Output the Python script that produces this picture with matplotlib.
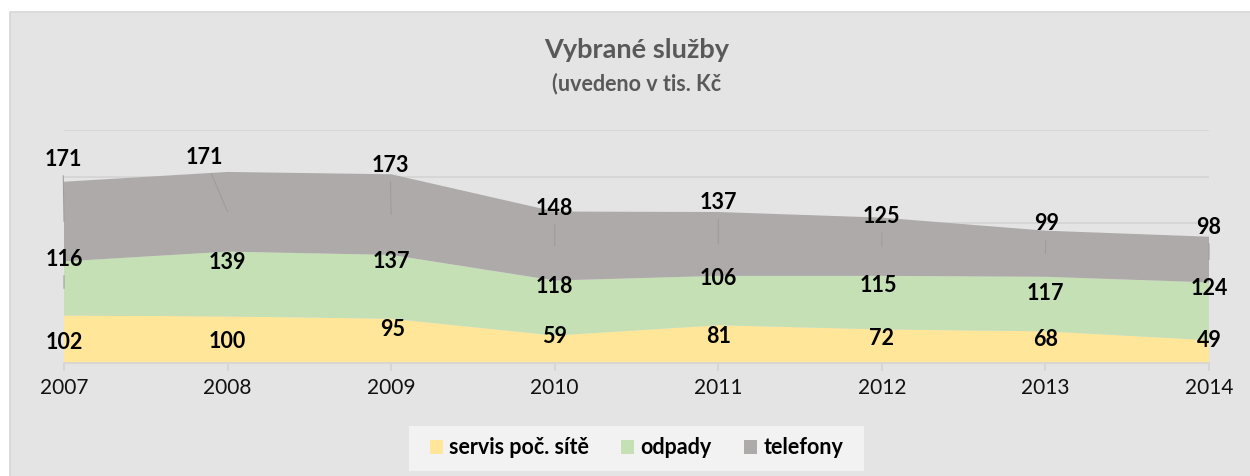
import matplotlib.pyplot as plt
from matplotlib.patches import Rectangle, Patch

# data
years = [2007, 2008, 2009, 2010, 2011, 2012, 2013, 2014]
servis = [102, 100, 95, 59, 81, 72, 68, 49]
odpady = [116, 139, 137, 118, 106, 115, 117, 124]
telefony = [171, 171, 173, 148, 137, 125, 99, 98]
names = ["servis poč. sítě", "odpady", "telefony"]

colors = ["#ffe699", "#c5e0b4", "#aeaaaa"]

# label offsets from the middle of each band (pixels, up = +)
lbl_dx = [[0, 0, 1, 0, 0, 0, 0, 0],
          [0, 0, 0, 0, 0, -3, 0, 0],
          [-1, -23, -1, 0, 0, 0, 1, 0]]
lbl_dy = [[-3, -2, 11, 13, 8, 8, 8, 11],
          [29, 22, 25, 22, 22, 17, 11, 23],
          [62, 54, 49, 38, 41, 30, 30, 32]]

plt.rcParams['font.family'] = ['Lato', 'DejaVu Sans']

fig = plt.figure(figsize=(12.5, 4.76), dpi=100)
fig.patch.set_facecolor("white")
fig.add_artist(Rectangle((10 / 1250, -0.01), 1.0, (476 - 12) / 476 + 0.01,
                         transform=fig.transFigure, facecolor="#e4e4e4",
                         edgecolor="#d6d6d6", lw=1.2, zorder=-10))

ax = fig.add_axes([64 / 1250, (476 - 363) / 476, (1209 - 64) / 1250, (363 - 130) / 476])
ax.set_facecolor("none")

series = [servis, odpady, telefony]
ax.stackplot(years, *series, colors=colors, linewidth=0, zorder=2)

ax.set_xlim(2007, 2014)
ax.set_ylim(0, 500)
ax.set_yticks([100, 200, 300, 400, 500])
ax.yaxis.grid(True, color="#d4d4d4", lw=1.2, zorder=0)
ax.set_axisbelow(True)
ax.tick_params(axis="y", length=0, labelleft=False)
ax.set_xticks(years)
ax.set_xticklabels([str(y) for y in years], fontsize=15, color="#111111")
ax.tick_params(axis="x", length=6, color="#d4d4d4", width=1.2, pad=5)
for s in ["top", "right", "left"]:
    ax.spines[s].set_visible(False)
ax.spines["bottom"].set_color("#d4d4d4")
ax.spines["bottom"].set_linewidth(1.2)
ax.spines["bottom"].set_zorder(3)

# data labels
base = [0] * len(years)
for i, vals in enumerate(series):
    for j, x in enumerate(years):
        mid = base[j] + vals[j] / 2
        dx, dy = lbl_dx[i][j], lbl_dy[i][j]
        props = None
        if (dx ** 2 + dy ** 2) ** 0.5 > 28:
            props = dict(arrowstyle="-", color="#9c9c9c", lw=0.75, shrinkA=2, shrinkB=0)
        ax.annotate(str(vals[j]), xy=(x, mid), xytext=(dx, dy), textcoords="offset pixels",
                    ha="center", va="center", fontsize=15.5, fontweight="bold",
                    color="black", arrowprops=props, zorder=5, annotation_clip=False)
    base = [b + v for b, v in zip(base, vals)]

# title
cx = (64 + 1209) / 2 / 1250
fig.text(cx, 1 - 50 / 476, "Vybrané služby", ha="center", va="center",
         fontsize=19.5, fontweight="bold", color="#595959")
fig.text(cx, 1 - 84 / 476, "(uvedeno v tis. Kč", ha="center", va="center",
         fontsize=15.5, fontweight="bold", color="#595959")

# legend
handles = [Patch(facecolor=c, edgecolor="none") for c in colors]
leg = fig.legend(handles, names, loc="center", bbox_to_anchor=(cx, (476 - 448) / 476),
                 ncol=3, frameon=False, prop=dict(size=15.5, weight="bold"),
                 handlelength=0.6, handleheight=0.6, handletextpad=0.3,
                 columnspacing=1.5)

fig.canvas.draw()
bb = leg.get_window_extent().transformed(fig.transFigure.inverted())
fig.add_artist(Rectangle((bb.x0 - 12 / 1250, (476 - 471) / 476), bb.width + 24 / 1250,
                         45 / 476, transform=fig.transFigure, facecolor="#f2f2f2",
                         edgecolor="none", zorder=-5))

fig.savefig("out.png", dpi=100)
